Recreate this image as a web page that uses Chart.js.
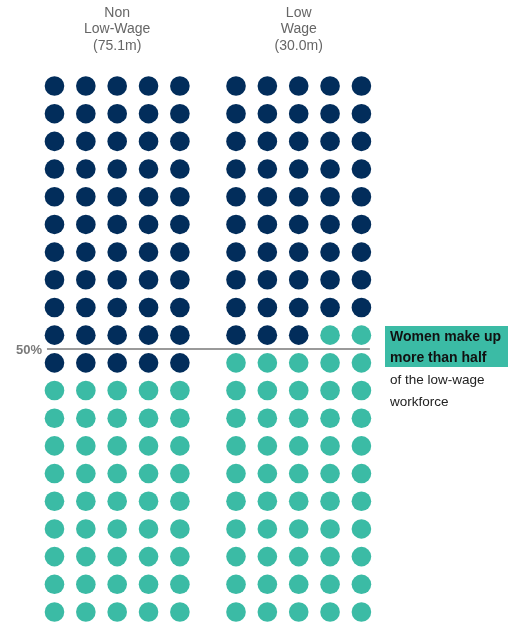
<!DOCTYPE html>
<html lang="en">
<head>
    <meta charset="UTF-8">
    <title>Low-wage workforce</title>
    <script src="https://cdn.jsdelivr.net/npm/chart.js"></script>
    <style>
        html, body { margin: 0; padding: 0; background: #fff; }
        .chart-box { position: relative; width: 514px; height: 625px; }
    </style>
</head>
<body>
    <div class="chart-box">
        <canvas id="waffleChart"></canvas>
    </div>

    <script>
        // data
        const groupLabels = [['Non', 'Low-Wage', '(75.1m)'], ['Low', 'Wage', '(30.0m)']];
        const menDots = [55, 48];      // navy dots, out of 100
        const womenDots = [45, 52];    // teal dots
        const halfLabel = '50%';
        const noteBold = ['Women make up', 'more than half'];
        const noteText = ['of the low-wage', 'workforce'];

        const COLS = 5;
        const GROUP_SHIFT = 5.79;   // column units between the two grids
        const NAVY = '#022d5b';
        const TEAL = '#3bbba5';

        // lay each group's dots out on a 5 x 20 grid, men first
        const menPts = [];
        const womenPts = [];
        for (let g = 0; g < menDots.length; g++) {
            const total = menDots[g] + womenDots[g];
            for (let i = 0; i < total; i++) {
                const pt = { x: g * GROUP_SHIFT + (i % COLS), y: Math.floor(i / COLS) };
                if (i < menDots[g]) menPts.push(pt); else womenPts.push(pt);
            }
        }

        const textPlugin = {
            id: 'waffleText',
            afterDraw(chart) {
                const ctx = chart.ctx;
                const xs = chart.scales.x;
                const ys = chart.scales.y;
                ctx.save();

                // group headers
                ctx.fillStyle = '#666';
                ctx.font = '14px "Liberation Sans", Arial, sans-serif';
                ctx.textAlign = 'center';
                ctx.textBaseline = 'middle';
                groupLabels.forEach((lines, g) => {
                    const cx = xs.getPixelForValue(g * GROUP_SHIFT + 2);
                    lines.forEach((t, k) => ctx.fillText(t, cx, 13 + k * 16.5));
                });

                // 50% label
                const yHalf = ys.getPixelForValue(9.5);
                ctx.fillStyle = '#7a7a7a';
                ctx.font = 'bold 13px "Liberation Sans", Arial, sans-serif';
                ctx.textAlign = 'right';
                ctx.fillText(halfLabel, 42, yHalf + 1);

                // annotation
                ctx.fillStyle = TEAL;
                ctx.fillRect(385, 326, 123, 41);
                ctx.fillStyle = '#111';
                ctx.font = 'bold 14px "Liberation Sans", Arial, sans-serif';
                ctx.textAlign = 'left';
                noteBold.forEach((t, k) => ctx.fillText(t, 390, 337 + k * 21));
                ctx.fillStyle = '#222';
                ctx.font = '13.5px "Liberation Sans", Arial, sans-serif';
                noteText.forEach((t, k) => ctx.fillText(t, 390, 380 + k * 22));

                ctx.restore();
            }
        };

        const ctx = document.getElementById('waffleChart').getContext('2d');
        new Chart(ctx, {
            type: 'scatter',
            data: {
                datasets: [
                    {
                        label: 'Men',
                        data: menPts,
                        backgroundColor: NAVY,
                        borderWidth: 0,
                        pointRadius: 9.8
                    },
                    {
                        label: 'Women',
                        data: womenPts,
                        backgroundColor: TEAL,
                        borderWidth: 0,
                        pointRadius: 9.8
                    },
                    {
                        label: '50%',
                        type: 'line',
                        data: [{ x: -0.24, y: 9.5 }, { x: 10.06, y: 9.5 }],
                        borderColor: '#9a9a9a',
                        borderWidth: 2,
                        pointRadius: 0
                    }
                ]
            },
            options: {
                responsive: true,
                maintainAspectRatio: false,
                animation: false,
                layout: { padding: 0, autoPadding: false },
                plugins: {
                    legend: { display: false },
                    tooltip: { enabled: false }
                },
                scales: {
                    x: { type: 'linear', display: false, min: -1.738, max: 14.657 },
                    y: { type: 'linear', display: false, reverse: true, min: -3.107, max: 19.47 }
                }
            },
            plugins: [textPlugin]
        });
    </script>
</body>
</html>
